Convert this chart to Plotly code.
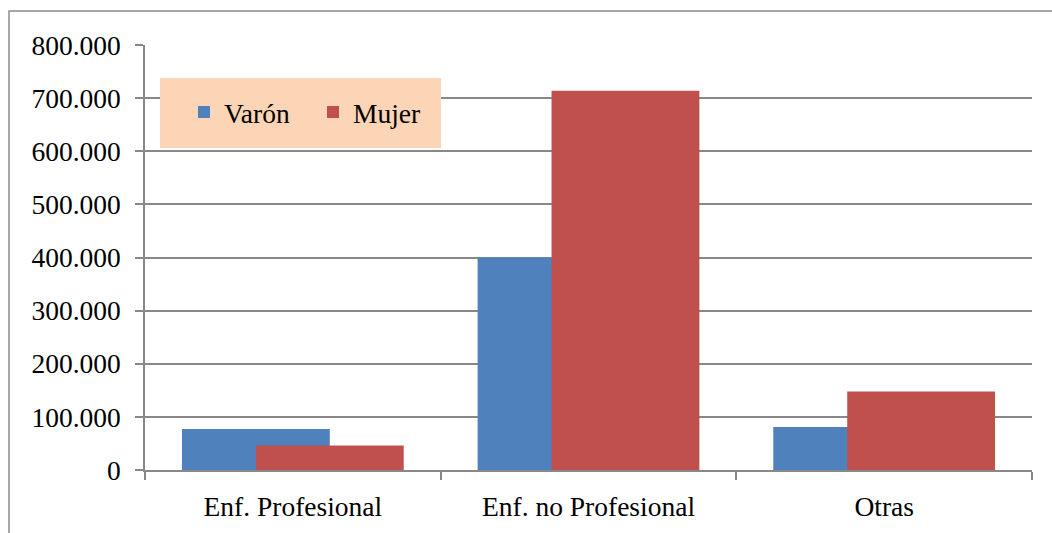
import plotly.graph_objects as go

categories = ["Enf. Profesional", "Enf. no Profesional", "Otras"]
varon = [77000, 400000, 81000]
mujer = [46000, 714000, 148000]
series_names = ["Varón", "Mujer"]
y_tickvals = [0, 100000, 200000, 300000, 400000, 500000, 600000, 700000, 800000]

W, H = 1052, 533
L, R, T, B = 145, 1032, 45, 470

def px(x):
    return (x - L) / (R - L)

def py(y):
    return (B - y) / (B - T)

FONT = "Liberation Serif"
FS = 27.5

fig = go.Figure()
fig.add_trace(go.Bar(x=categories, y=varon, name=series_names[0],
                     marker=dict(color="#4F81BD", line=dict(width=0)),
                     offset=-0.375, width=0.5))
fig.add_trace(go.Bar(x=categories, y=mujer, name=series_names[1],
                     marker=dict(color="#C0504D", line=dict(width=0)),
                     offset=-0.125, width=0.5))

fig.update_layout(
    width=W, height=H,
    margin=dict(l=L, r=W - R, t=T, b=H - B, pad=0),
    barmode="overlay",
    separators=",.",
    paper_bgcolor="white",
    plot_bgcolor="white",
    font=dict(family=FONT, size=FS, color="black"),
    showlegend=True,
    legend=dict(
        orientation="h",
        x=px(184), y=py(112), xanchor="left", yanchor="middle",
        bgcolor="rgba(0,0,0,0)",
        font=dict(family=FONT, size=FS, color="black"),
        entrywidth=84, entrywidthmode="pixels",
        traceorder="normal",
    ),
    shapes=[
        dict(type="rect", xref="paper", yref="paper",
             x0=px(9), x1=px(1070), y0=py(560), y1=py(11),
             line=dict(color="#8c8c8c", width=1.5), fillcolor="rgba(0,0,0,0)",
             layer="below"),
        dict(type="rect", xref="paper", yref="paper",
             x0=px(160), x1=px(441), y0=py(148), y1=py(78),
             line=dict(width=0), fillcolor="#FBD5B5", layer="above"),
    ],
)

fig.update_xaxes(
    showline=True, linecolor="#888888", linewidth=1.5,
    ticks="outside", tickson="boundaries", ticklen=8, tickcolor="#888888", tickwidth=1.5,
    showgrid=False, tickfont=dict(family=FONT, size=FS, color="black"),
    ticklabelstandoff=11,
)
fig.update_yaxes(
    range=[0, 800000], tickvals=y_tickvals, tickformat=",d",
    showline=True, linecolor="#888888", linewidth=1.5,
    ticks="outside", ticklen=8, tickcolor="#888888", tickwidth=1.5,
    showgrid=True, gridcolor="#888888", gridwidth=1.5,
    zeroline=False,
    tickfont=dict(family=FONT, size=FS, color="black"),
    ticklabelstandoff=9,
)

fig.write_html("out.html")
